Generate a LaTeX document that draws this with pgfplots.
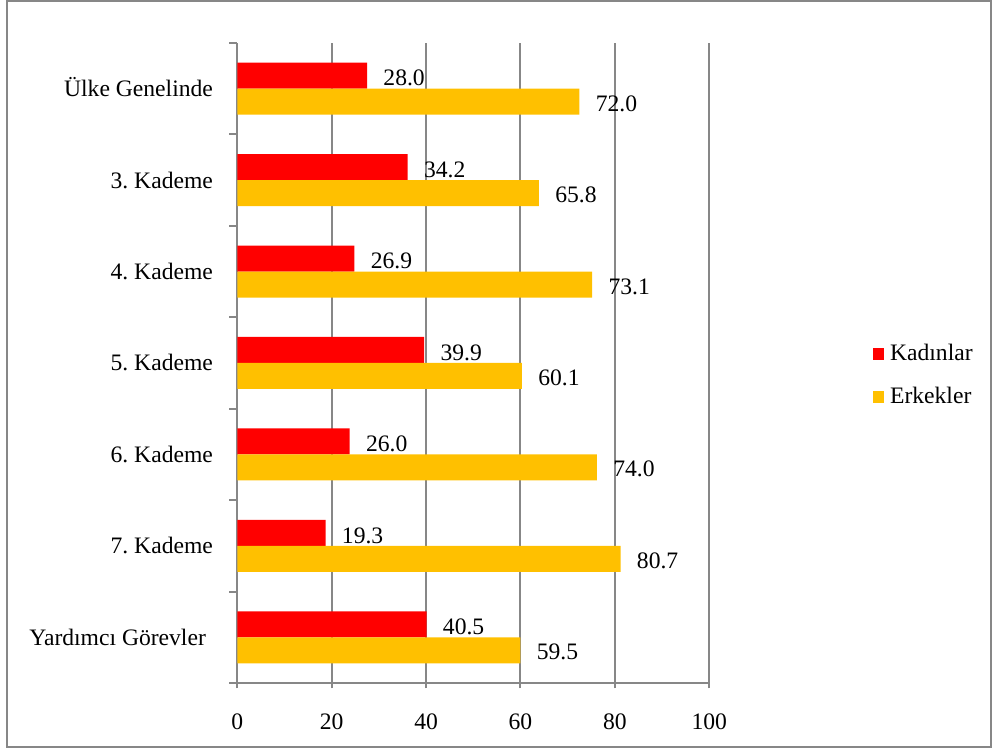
\documentclass[border=0pt]{standalone}
\usepackage{fontspec}
\setmainfont{Liberation Serif}
\usepackage{pgfplots}
\pgfplotsset{compat=1.18}
\usepackage{pgfplotstable}
\definecolor{kad}{HTML}{FF0000}
\definecolor{erk}{HTML}{FFC000}
\definecolor{gridgray}{HTML}{878787}
\newcommand\fsz{\fontsize{11.8pt}{14pt}\selectfont}
\pgfplotsset{sq legend/.style={legend image code/.code={\fill[##1] (0pt,-3pt) rectangle (5.7pt,3pt);}}}
\frenchspacing

\pgfplotstableread{
y kad kadlab erk erklab
6 27.5 28.0 72.5 72.0
5 36.1 34.2 63.9 65.8
4 24.8 26.9 75.2 73.1
3 39.6 39.9 60.3 60.1
2 23.8 26.0 76.2 74.0
1 18.7 19.3 81.2 80.7
0 40.1 40.5 60.0 59.5
}\datatable

\begin{document}
\frenchspacing
\begin{tikzpicture}
\draw[gridgray, line width=1pt] (-114.9pt,-32.25pt) rectangle (376.85pt,341pt);
\begin{axis}[
  at={(0,0)}, anchor=south west,
  scale only axis, width=236pt, height=320pt,
  xmin=0, xmax=100, ymin=-0.5, ymax=6.5,
  xtick={0,20,...,100},
  ytick={0,...,6},
  yticklabels={Yardımcı Görevler\kern3.5pt,7. Kademe,6. Kademe,5. Kademe,4. Kademe,3. Kademe,Ülke Genelinde},
  minor ytick={-0.5,0.5,...,6.5},
  axis x line*=bottom, axis y line*=left,
  axis line style={gridgray, line width=1pt, -},
  xmajorgrids, grid style={gridgray, line width=1pt},
  tick align=outside, major tick length=2.7pt, minor tick length=4pt,
  tick style={gridgray, line width=1pt},
  major y tick style={draw=none},
  /pgf/number format/assume math mode=true,
  tick label style={font=\fsz, text=black},
  xticklabel style={anchor=base, inner sep=0pt, yshift=-20.5pt},
  yticklabel style={anchor=base east, inner sep=0pt, xshift=-9.3pt, yshift=-4pt},
  legend style={draw=none, fill=none, at={(1.3496,0.482)}, anchor=west, inner sep=0pt,
    xshift=-1pt, yshift=-0.5pt,
    row sep=11.9pt, font=\fsz, nodes={inner sep=0pt},
    /tikz/every odd column/.append style={column sep=3pt}},
  legend cell align=left,
  nodes near coords={\pgfmathprintnumber[fixed,fixed zerofill,precision=1]{\pgfplotspointmeta}},
  nodes near coords style={anchor=west, inner sep=0pt, xshift=8pt, font=\fsz, text=black},
]
\addplot[xbar, bar width=13pt, bar shift=6.5pt, fill=kad, draw=none, point meta=explicit, sq legend,
  every node near coord/.append style={yshift=5.2pt}]
  table[x=kad, y=y, meta=kadlab] {\datatable};
\addlegendentry{Kadınlar}
\addplot[xbar, bar width=13pt, bar shift=-6.5pt, fill=erk, draw=none, point meta=explicit, sq legend,
  every node near coord/.append style={yshift=-7.4pt}]
  table[x=erk, y=y, meta=erklab] {\datatable};
\addlegendentry{Erkekler}
\end{axis}
\pgfresetboundingbox
\path[use as bounding box] (-118.65pt,-33pt) rectangle (377.35pt,341.5pt);
\end{tikzpicture}
\end{document}
